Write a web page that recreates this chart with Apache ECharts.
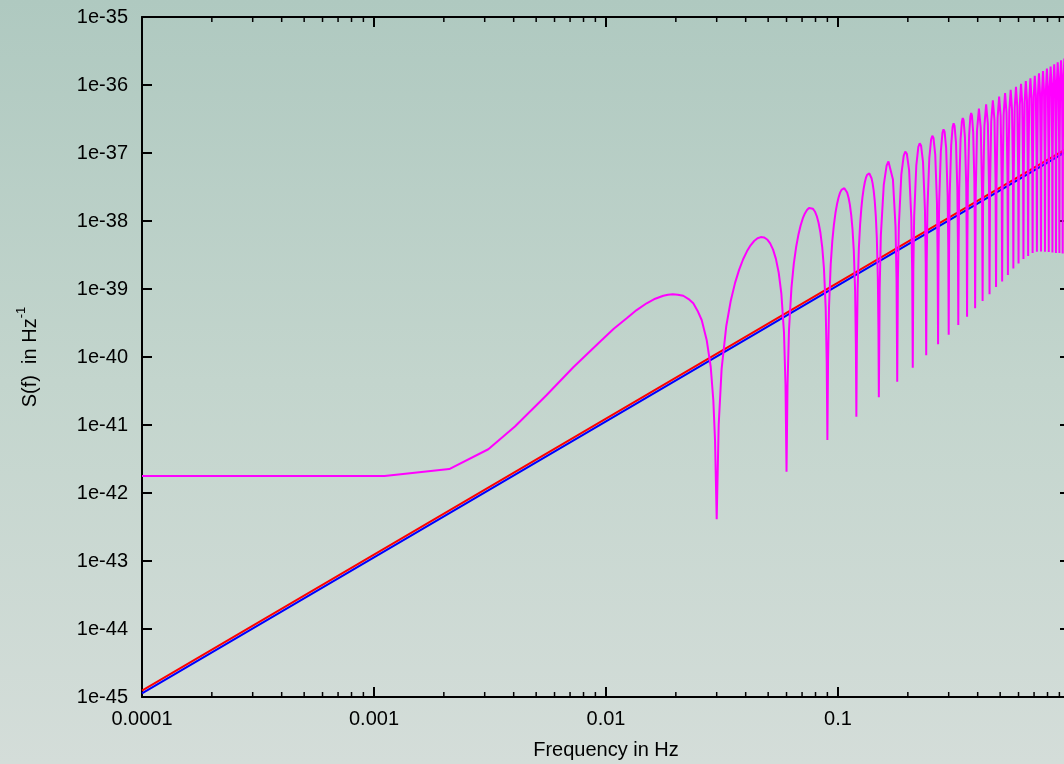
<!DOCTYPE html>
<html>
<head>
<meta charset="utf-8">
<title>S(f)</title>
<script src="https://cdn.jsdelivr.net/npm/echarts@6/dist/echarts.min.js"></script>
<style>
  html, body {
    margin: 0;
    padding: 0;
    width: 1064px;
    height: 764px;
    overflow: hidden;
    background: linear-gradient(to bottom, #afc9c0 0%, #c3d5cd 50%, #d4ddd9 100%);
  }
  #chart { width: 1080px; height: 764px; }
</style>
</head>
<body>
<div id="chart"></div>
<script>
// ---- axis ranges and tick labels ----
const X_MIN = 1e-4, X_MAX = 1;
const Y_MIN = 1e-45, Y_MAX = 1e-35;
const xDecadeStart = -4;
const xTickLabels = ['0.0001', '0.001', '0.01', '0.1', '1'];
const yTickValues = [1e-45, 1e-44, 1e-43, 1e-42, 1e-41, 1e-40,
                     1e-39, 1e-38, 1e-37, 1e-36, 1e-35];
const yTickLabels = ['1e-45', '1e-44', '1e-43', '1e-42', '1e-41', '1e-40',
                     '1e-39', '1e-38', '1e-37', '1e-36', '1e-35'];
// minor ticks of the log frequency axis (2..9 in each decade)
const xMinorTicks = [
  2e-4, 3e-4, 4e-4, 5e-4, 6e-4, 7e-4, 8e-4, 9e-4,
  2e-3, 3e-3, 4e-3, 5e-3, 6e-3, 7e-3, 8e-3, 9e-3,
  2e-2, 3e-2, 4e-2, 5e-2, 6e-2, 7e-2, 8e-2, 9e-2,
  0.2, 0.3, 0.4, 0.5, 0.6, 0.7, 0.8, 0.9
];

// ---- power-law noise curves (straight in log-log) ----
const lineFreq = [1e-4, 1e-3, 1e-2, 1e-1, 1];
const redPsd   = [1.24e-45, 1.24e-43, 1.24e-41, 1.24e-39, 1.24e-37];
const bluePsd  = [1.13e-45, 1.13e-43, 1.13e-41, 1.13e-39, 1.13e-37];

// ---- oscillating response, one row per lobe (null depth first) ----
const respFreq = [
  0.0001, 0.00111, 0.00211, 0.00311, 0.00405, 0.00555, 0.00723, 0.00942, 0.0108, 0.01228,
  0.01355, 0.01497, 0.0163, 0.01766, 0.0185, 0.0194, 0.0204, 0.02153, 0.0227, 0.02378,
  0.0248, 0.02585, 0.02716, 0.02827, 0.02901, 0.02951,
  0.03, 0.0306, 0.0315, 0.033, 0.0345, 0.036, 0.0375, 0.039, 0.0405, 0.042, 0.0435,
  0.045, 0.0465, 0.048, 0.0495, 0.051, 0.0525, 0.054, 0.0555, 0.057, 0.0585, 0.0594,
  0.06, 0.0606, 0.0615, 0.063, 0.0645, 0.066, 0.0675, 0.069, 0.0705, 0.072, 0.0735,
  0.075, 0.0765, 0.078, 0.0795, 0.081, 0.0825, 0.084, 0.0855, 0.087, 0.0885, 0.0894,
  0.09, 0.0906, 0.0915, 0.093, 0.0945, 0.096, 0.0975, 0.099, 0.1005, 0.102, 0.1035,
  0.105, 0.1065, 0.108, 0.1095, 0.111, 0.1125, 0.114, 0.1155, 0.117, 0.1185, 0.1194,
  0.12, 0.1206, 0.1215, 0.123, 0.1245, 0.126, 0.1275, 0.129, 0.1305, 0.132, 0.1335,
  0.135, 0.1365, 0.138, 0.1395, 0.141, 0.1425, 0.144, 0.1455, 0.147, 0.1485, 0.1494,
  0.15, 0.1512, 0.153, 0.1575, 0.162, 0.165, 0.168, 0.1725, 0.177, 0.1788,
  0.18, 0.1812, 0.183, 0.1875, 0.192, 0.195, 0.198, 0.2025, 0.207, 0.2088,
  0.21, 0.2112, 0.213, 0.2175, 0.222, 0.225, 0.228, 0.2325, 0.237, 0.2388,
  0.24, 0.2412, 0.243, 0.2475, 0.252, 0.255, 0.258, 0.2625, 0.267, 0.2688,
  0.27, 0.2712, 0.273, 0.2775, 0.282, 0.285, 0.288, 0.2925, 0.297, 0.2988,
  0.30, 0.3012, 0.303, 0.3075, 0.312, 0.315, 0.318, 0.3225, 0.327, 0.3288,
  0.33, 0.3312, 0.333, 0.3375, 0.342, 0.345, 0.348, 0.3525, 0.357, 0.3588,
  0.36, 0.3612, 0.363, 0.3675, 0.372, 0.375, 0.378, 0.3825, 0.387, 0.3888,
  0.39, 0.3924, 0.3975, 0.405, 0.4125, 0.4176,
  0.42, 0.4224, 0.4275, 0.435, 0.4425, 0.4476,
  0.45, 0.4524, 0.4575, 0.465, 0.4725, 0.4776,
  0.48, 0.4824, 0.4875, 0.495, 0.5025, 0.5076,
  0.51, 0.5124, 0.5175, 0.525, 0.5325, 0.5376,
  0.54, 0.5424, 0.5475, 0.555, 0.5625, 0.5676,
  0.57, 0.5724, 0.5775, 0.585, 0.5925, 0.5976,
  0.60, 0.6024, 0.6075, 0.615, 0.6225, 0.6276,
  0.63, 0.6324, 0.6375, 0.645, 0.6525, 0.6576,
  0.66, 0.6624, 0.6675, 0.675, 0.6825, 0.6876,
  0.69, 0.6924, 0.6975, 0.705, 0.7125, 0.7176,
  0.72, 0.7224, 0.7275, 0.735, 0.7425, 0.7476,
  0.75, 0.7524, 0.7575, 0.765, 0.7725, 0.7776,
  0.78, 0.7824, 0.7875, 0.795, 0.8025, 0.8076,
  0.81, 0.8124, 0.8175, 0.825, 0.8325, 0.8376,
  0.84, 0.8424, 0.8475, 0.855, 0.8625, 0.8676,
  0.87, 0.8724, 0.8775, 0.885, 0.8925, 0.8976,
  0.90, 0.9024, 0.9075, 0.915, 0.9225, 0.9276,
  0.93, 0.9324, 0.9375, 0.945, 0.9525, 0.9576,
  0.96, 0.9624, 0.9675, 0.975, 0.9825, 0.9876,
  0.99, 0.9924, 0.9975, 1.005
];
const respPsd = [
  1.78e-42, 1.78e-42, 2.25e-42, 4.4e-42, 9.5e-42, 2.76e-41, 7.06e-41, 1.68e-40, 2.6e-40, 3.71e-40,
  4.9e-40, 6.17e-40, 7.2e-40, 7.96e-40, 8.25e-40, 8.4e-40, 8.25e-40, 7.96e-40, 7.1e-40, 6.17e-40,
  4.8e-40, 3.5e-40, 1.78e-40, 7.19e-41, 2.33e-41, 6.0e-42,
  4.1e-43, 1.01e-41, 6.68e-41, 2.86e-40, 6.74e-40, 1.23e-39, 1.93e-39, 2.74e-39, 3.58e-39, 4.39e-39, 5.08e-39,
  5.57e-39, 5.80e-39, 5.73e-39, 5.35e-39, 4.68e-39, 3.79e-39, 2.77e-39, 1.75e-39, 8.53e-40, 2.30e-40, 3.82e-41,
  2.06e-42, 3.97e-41, 2.55e-40, 1.04e-39, 2.36e-39, 4.14e-39, 6.26e-39, 8.57e-39, 1.09e-38, 1.29e-38, 1.45e-38,
  1.55e-38, 1.57e-38, 1.51e-38, 1.38e-38, 1.18e-38, 9.36e-39, 6.71e-39, 4.14e-39, 1.99e-39, 5.27e-40, 8.65e-41,
  6.0e-42, 8.88e-41, 5.64e-40, 2.27e-39, 5.06e-39, 8.75e-39, 1.31e-38, 1.76e-38, 2.20e-38, 2.59e-38, 2.87e-38,
  3.03e-38, 3.04e-38, 2.90e-38, 2.62e-38, 2.22e-38, 1.74e-38, 1.23e-38, 7.56e-39, 3.60e-39, 9.46e-40, 1.54e-40,
  1.32e-41, 1.57e-40, 9.94e-40, 3.97e-39, 8.78e-39, 1.51e-38, 2.24e-38, 3.00e-38, 3.72e-38, 4.34e-38, 4.78e-38,
  5.01e-38, 5.00e-38, 4.74e-38, 4.25e-38, 3.58e-38, 2.79e-38, 1.97e-38, 1.20e-38, 5.67e-39, 1.48e-39, 2.41e-40,
  2.55e-41, 9.87e-40, 6.15e-39, 3.41e-38, 6.53e-38, 7.49e-38, 7.02e-38, 4.09e-38, 8.23e-39, 1.38e-39,
  4.34e-41, 1.42e-39, 8.79e-39, 4.83e-38, 9.17e-38, 1.05e-37, 9.75e-38, 5.64e-38, 1.12e-38, 1.88e-39,
  6.97e-41, 1.93e-39, 1.19e-38, 6.50e-38, 1.23e-37, 1.39e-37, 1.29e-37, 7.43e-38, 1.47e-38, 2.46e-39,
  1.06e-40, 2.51e-39, 1.55e-38, 8.42e-38, 1.58e-37, 1.79e-37, 1.66e-37, 9.47e-38, 1.87e-38, 3.12e-39,
  1.54e-40, 3.18e-39, 1.96e-38, 1.06e-37, 1.98e-37, 2.23e-37, 2.06e-37, 1.18e-37, 2.32e-38, 3.86e-39,
  2.13e-40, 3.92e-39, 2.41e-38, 1.30e-37, 2.42e-37, 2.73e-37, 2.51e-37, 1.43e-37, 2.81e-38, 4.67e-39,
  2.96e-40, 4.74e-39, 2.91e-38, 1.57e-37, 2.91e-37, 3.27e-37, 3.01e-37, 1.71e-37, 3.35e-38, 5.56e-39,
  3.92e-40, 5.63e-39, 3.46e-38, 1.86e-37, 3.44e-37, 3.87e-37, 3.55e-37, 2.01e-37, 3.93e-38, 6.53e-39,
  5.2e-40, 2.62e-38, 2.17e-37, 4.51e-37, 2.34e-37, 2.96e-38,
  6.67e-40, 3.03e-38, 2.51e-37, 5.20e-37, 2.69e-37, 3.40e-38,
  8.4e-40, 3.48e-38, 2.88e-37, 5.94e-37, 3.07e-37, 3.88e-38,
  1.07e-39, 3.95e-38, 3.27e-37, 6.74e-37, 3.47e-37, 4.38e-38,
  1.29e-39, 4.46e-38, 3.68e-37, 7.58e-37, 3.90e-37, 4.91e-38,
  1.61e-39, 5.00e-38, 4.12e-37, 8.47e-37, 4.35e-37, 5.47e-38,
  2.0e-39, 5.57e-38, 4.58e-37, 9.41e-37, 4.83e-37, 6.07e-38,
  2.37e-39, 6.17e-38, 5.07e-37, 1.04e-36, 5.33e-37, 6.69e-38,
  2.76e-39, 6.79e-38, 5.59e-37, 1.14e-36, 5.85e-37, 7.35e-38,
  3.05e-39, 7.46e-38, 6.12e-37, 1.25e-36, 6.41e-37, 8.03e-38,
  3.38e-39, 8.14e-38, 6.69e-37, 1.37e-36, 6.98e-37, 8.75e-38,
  3.54e-39, 8.87e-38, 7.28e-37, 1.49e-36, 7.58e-37, 9.50e-38,
  3.56e-39, 9.62e-38, 7.89e-37, 1.61e-36, 8.21e-37, 1.03e-37,
  3.54e-39, 1.04e-37, 8.52e-37, 1.74e-36, 8.85e-37, 1.11e-37,
  3.5e-39, 1.12e-37, 9.19e-37, 1.87e-36, 9.53e-37, 1.19e-37,
  3.44e-39, 1.21e-37, 9.87e-37, 2.01e-36, 1.02e-36, 1.28e-37,
  3.38e-39, 1.29e-37, 1.06e-36, 2.15e-36, 1.10e-36, 1.37e-37,
  3.38e-39, 1.38e-37, 1.13e-36, 2.30e-36, 1.17e-36, 1.46e-37,
  3.33e-39, 1.48e-37, 1.21e-36, 2.45e-36, 1.25e-36, 1.56e-37,
  3.27e-39, 1.57e-37, 1.29e-36, 2.61e-36, 1.33e-36, 1.66e-37,
  3.27e-39, 1.67e-37, 1.37e-36, 2.78e-36
];

const pairs = (xs, ys) => xs.map((x, i) => [x, ys[i]]);

const FONT = 'Liberation Sans, Arial, sans-serif';
const INK = '#000000';
const MAGENTA = '#ff00ff';

const xLabel = v => xTickLabels[Math.round(Math.log10(v)) - xDecadeStart];

function logX(position, showLabels) {
  return {
    type: 'log', logBase: 10, position: position, gridIndex: 0,
    min: X_MIN, max: X_MAX, splitNumber: 4,
    axisLine: { show: true, onZero: false, lineStyle: { color: INK, width: 2 } },
    axisTick: { show: true, inside: true, length: 10, lineStyle: { color: INK, width: 2 } },
    axisLabel: {
      show: showLabels, margin: 12, formatter: xLabel,
      showMinLabel: true, showMaxLabel: true, hideOverlap: false,
      fontFamily: FONT, fontSize: 20, color: INK
    },
    splitLine: { show: false }, minorTick: { show: false }
  };
}
function logY(position) {
  return {
    type: 'log', logBase: 10, position: position, gridIndex: 0,
    min: Y_MIN, max: Y_MAX, splitNumber: 10,
    axisLine: { show: true, onZero: false, lineStyle: { color: INK, width: 2 } },
    axisTick: { show: true, inside: true, length: 10, lineStyle: { color: INK, width: 2 } },
    // decade labels are drawn by the 'y-labels' custom series below
    axisLabel: { show: false },
    splitLine: { show: false }, minorTick: { show: false }
  };
}

const xBottom = Object.assign(logX('bottom', true), {
  name: 'Frequency in Hz', nameLocation: 'middle', nameGap: 43, nameMoveOverlap: false,
  nameTextStyle: { fontFamily: FONT, fontSize: 20, color: INK }
});
const yLeft = Object.assign(logY('left'), {
  name: '{a|S(f)  in Hz}{b|-1}', nameLocation: 'middle', nameRotate: 90, nameGap: 97,
  nameMoveOverlap: false,
  nameTextStyle: {
    fontFamily: FONT, color: INK,
    rich: {
      a: { fontFamily: FONT, fontSize: 20, lineHeight: 30, color: INK },
      b: { fontFamily: FONT, fontSize: 13, lineHeight: 13, color: INK, verticalAlign: 'top' }
    }
  }
});

const chart = echarts.init(document.getElementById('chart'), null, {
  renderer: 'canvas', width: 1080, height: 764
});
chart.setOption({
  animation: false,
  backgroundColor: 'transparent',
  grid: {
    left: 142, right: 10, top: 17, bottom: 67,
    containLabel: false, outerBoundsMode: 'none'
  },
  xAxis: [xBottom, logX('top', false)],
  yAxis: [yLeft, logY('right')],
  series: [
    {
      name: 'red', type: 'line', xAxisIndex: 0, yAxisIndex: 0,
      data: pairs(lineFreq, redPsd), showSymbol: false, silent: true,
      lineStyle: { color: '#ff0000', width: 2 }, z: 2
    },
    {
      name: 'blue', type: 'line', xAxisIndex: 0, yAxisIndex: 0,
      data: pairs(lineFreq, bluePsd), showSymbol: false, silent: true,
      lineStyle: { color: '#0000ff', width: 2 }, z: 2
    },
    {
      name: 'response', type: 'line', xAxisIndex: 0, yAxisIndex: 0,
      data: pairs(respFreq, respPsd), showSymbol: false, silent: true,
      lineStyle: { color: MAGENTA, width: 2 }, z: 3
    },
    {
      // minor ticks on the bottom and top borders
      name: 'x-minor-ticks', type: 'custom', xAxisIndex: 0, yAxisIndex: 0,
      silent: true, z: 6, clip: false,
      data: xMinorTicks.map(v => [v, Y_MIN]),
      encode: { x: 0, y: 1 },
      renderItem: function (params, api) {
        const f = api.value(0);
        const b = api.coord([f, Y_MIN]);
        const t = api.coord([f, Y_MAX]);
        const st = { stroke: INK, lineWidth: 1.5 };
        return {
          type: 'group',
          children: [
            { type: 'line', shape: { x1: b[0], y1: b[1], x2: b[0], y2: b[1] - 5 }, style: st },
            { type: 'line', shape: { x1: t[0], y1: t[1], x2: t[0], y2: t[1] + 5 }, style: st }
          ]
        };
      }
    },
    {
      // decade labels of the S(f) axis
      name: 'y-labels', type: 'custom', xAxisIndex: 0, yAxisIndex: 0,
      silent: true, z: 6, clip: false,
      data: yTickValues.map(v => [X_MIN, v]),
      encode: { x: 0, y: 1 },
      renderItem: function (params, api) {
        const p = api.coord([X_MIN, api.value(1)]);
        return {
          type: 'text', x: p[0] - 14, y: p[1],
          style: {
            text: yTickLabels[params.dataIndex],
            fontFamily: FONT, fontSize: 20, fill: INK,
            align: 'right', verticalAlign: 'middle'
          }
        };
      }
    }
  ]
});
</script>
</body>
</html>
